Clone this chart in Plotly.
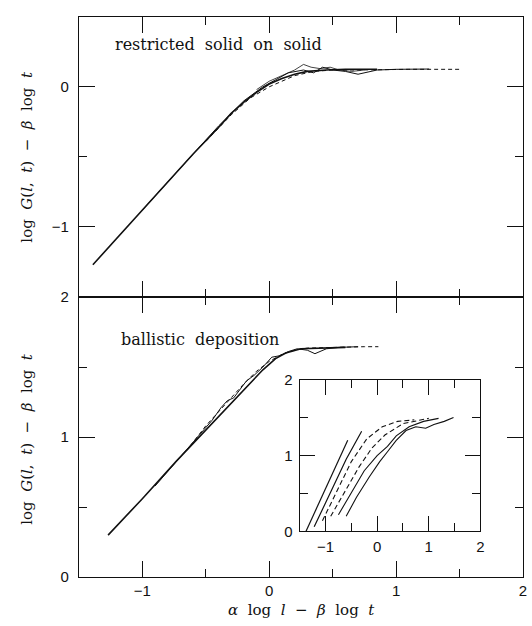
import plotly.graph_objects as go

# ---------------- data ----------------
# top panel: restricted solid on solid
rsos_a_x = [-1.39, -1.2, -1.0, -0.8, -0.6, -0.4, -0.3, -0.2, -0.1, 0.0, 0.1, 0.2, 0.3, 0.45, 0.6, 0.85]
rsos_a_y = [-1.27, -1.08, -0.88, -0.68, -0.48, -0.29, -0.19, -0.11, -0.04, 0.02, 0.06, 0.09, 0.11, 0.12, 0.125, 0.125]
rsos_b_x = [-1.0, -0.7, -0.4, -0.2, -0.05, 0.05, 0.15, 0.27, 0.35, 0.42, 0.5, 0.6, 0.7, 0.85, 1.0, 1.26]
rsos_b_y = [-0.88, -0.58, -0.28, -0.10, 0.0, 0.05, 0.10, 0.12, 0.10, 0.14, 0.12, 0.11, 0.09, 0.12, 0.125, 0.127]
rsos_c_x = [-0.5, -0.3, -0.15, 0.0, 0.1, 0.2, 0.35, 0.5, 0.7, 0.9, 1.1, 1.3, 1.51]
rsos_c_y = [-0.39, -0.20, -0.08, 0.0, 0.04, 0.08, 0.11, 0.12, 0.12, 0.125, 0.125, 0.125, 0.125]
rsos_d_x = [-0.1, 0.0, 0.1, 0.2, 0.27, 0.33, 0.4, 0.48, 0.55, 0.65, 0.75]
rsos_d_y = [-0.02, 0.04, 0.08, 0.12, 0.16, 0.14, 0.13, 0.14, 0.12, 0.11, 0.12]

# bottom panel: ballistic deposition
bd_a_x = [-1.27, -1.0, -0.73, -0.47, -0.21, -0.05, 0.05, 0.13, 0.25, 0.4, 0.6]
bd_a_y = [0.30, 0.56, 0.83, 1.08, 1.33, 1.48, 1.56, 1.60, 1.63, 1.635, 1.64]
bd_b_x = [-0.9, -0.7, -0.55, -0.45, -0.38, -0.33, -0.28, -0.22, -0.18, -0.12, -0.05, 0.02, 0.08, 0.15, 0.22, 0.3, 0.36, 0.45, 0.55, 0.7]
bd_b_y = [0.65, 0.86, 1.02, 1.12, 1.21, 1.26, 1.28, 1.35, 1.40, 1.44, 1.50, 1.57, 1.58, 1.61, 1.63, 1.62, 1.595, 1.63, 1.64, 1.645]
bd_c_x = [-0.62, -0.5, -0.35, -0.2, -0.1, 0.0, 0.1, 0.2, 0.3, 0.45, 0.6, 0.75, 0.86]
bd_c_y = [0.94, 1.08, 1.23, 1.38, 1.47, 1.54, 1.59, 1.62, 1.635, 1.64, 1.645, 1.645, 1.645]

# inset: unscaled curves
in_a_x = [-1.38, -1.0, -0.57]
in_a_y = [0.0, 0.56, 1.20]
in_b_x = [-1.22, -0.9, -0.6, -0.3]
in_b_y = [0.06, 0.52, 0.95, 1.32]
in_c_x = [-1.06, -0.8, -0.5, -0.2, 0.1, 0.4, 0.72]
in_c_y = [0.14, 0.50, 0.92, 1.22, 1.38, 1.45, 1.47]
in_d_x = [-0.9, -0.6, -0.35, -0.1, 0.15, 0.5, 1.0]
in_d_y = [0.20, 0.55, 0.85, 1.10, 1.27, 1.42, 1.49]
in_e_x = [-0.75, -0.5, -0.25, 0.0, 0.2, 0.37, 0.62, 0.9, 1.19]
in_e_y = [0.22, 0.52, 0.80, 1.00, 1.12, 1.26, 1.38, 1.45, 1.49]
in_f_x = [-0.6, -0.4, -0.15, 0.05, 0.2, 0.37, 0.56, 0.75, 0.94, 1.1, 1.3, 1.48]
in_f_y = [0.20, 0.45, 0.72, 0.92, 1.05, 1.20, 1.33, 1.38, 1.36, 1.41, 1.45, 1.50]

x_ticks = [-1, 0, 1, 2]
x_labels = ["\u22121", "0", "1", "2"]
top_y_ticks = [-1, 0]
top_y_labels = ["\u22121", "0"]
bot_y_ticks = [0, 1, 2]

# ---------------- figure ----------------
W, H = 532, 626
fig = go.Figure()
BLACK = "#111111"


def add(x, y, xa, ya, width=1.3, dash="solid"):
    fig.add_trace(go.Scatter(x=x, y=y, xaxis=xa, yaxis=ya, mode="lines",
                             line=dict(color=BLACK, width=width, dash=dash),
                             showlegend=False, hoverinfo="skip"))


add(rsos_a_x, rsos_a_y, "x", "y", 1.6)
add(rsos_b_x, rsos_b_y, "x", "y", 1.0)
add(rsos_c_x, rsos_c_y, "x", "y", 1.0, "4px,3px")
add(rsos_d_x, rsos_d_y, "x", "y", 0.8)

add(bd_a_x, bd_a_y, "x2", "y2", 1.6)
add(bd_b_x, bd_b_y, "x2", "y2", 1.0)
add(bd_c_x, bd_c_y, "x2", "y2", 1.0, "4px,3px")

add(in_a_x, in_a_y, "x3", "y3", 1.2)
add(in_b_x, in_b_y, "x3", "y3", 1.2)
add(in_c_x, in_c_y, "x3", "y3", 1.1, "5px,3px")
add(in_d_x, in_d_y, "x3", "y3", 1.1, "5px,3px")
add(in_e_x, in_e_y, "x3", "y3", 1.1)
add(in_f_x, in_f_y, "x3", "y3", 1.1)


def px(v):
    return v / W


def py(v):
    return 1 - v / H


tickfont = dict(family="Liberation Sans, Arial, sans-serif", size=15, color=BLACK)


def minor(l):
    return dict(ticks="inside", ticklen=l, tickwidth=1.1, tickcolor=BLACK, dtick=0.5)


def axis_common(**kw):
    d = dict(showline=True, linecolor=BLACK, linewidth=1.1, mirror="ticks",
             ticks="inside", ticklen=16, tickwidth=1.1, tickcolor=BLACK,
             showgrid=False, zeroline=False, tickfont=tickfont, minor=minor(8))
    d.update(kw)
    return d


xdom = [px(79.5), px(527)]
fig.update_layout(
    width=W, height=H, margin=dict(l=0, r=0, t=0, b=0),
    paper_bgcolor="white", plot_bgcolor="rgba(0,0,0,0)",
    xaxis=axis_common(domain=xdom, range=[-1.5, 2], anchor="y", tickvals=x_ticks,
                      showticklabels=False),
    yaxis=axis_common(domain=[py(296), py(8)], range=[-1.5, 0.5], anchor="x",
                      tickvals=top_y_ticks, ticktext=top_y_labels, ticklabelstandoff=6),
    xaxis2=axis_common(domain=xdom, range=[-1.5, 2], anchor="y2", tickvals=x_ticks,
                       ticktext=x_labels),
    yaxis2=axis_common(domain=[py(584), py(296)], range=[0, 2], anchor="x2",
                       tickvals=bot_y_ticks, ticklabelstandoff=6),
    xaxis3=axis_common(domain=[px(302), px(484)], range=[-1.5, 2], anchor="y3",
                       tickvals=x_ticks, ticktext=x_labels, ticklen=15, minor=minor(8),
                       ticklabelstandoff=2),
    yaxis3=axis_common(domain=[py(537), py(381)], range=[0, 2], anchor="x3",
                       tickvals=bot_y_ticks, ticklen=15, minor=minor(8),
                       ticklabelstandoff=3),
)

serif = "DejaVu Serif, Liberation Serif, serif"
ytitle = "log  <i>G</i>(<i>l</i>,  <i>t</i>)  \u2212  <i>\u03b2</i>  log  <i>t</i>"
xtitle = "<i>\u03b1</i>  log  <i>l</i>  \u2212  <i>\u03b2</i>  log  <i>t</i>"
afont = dict(family=serif, size=15, color=BLACK)
for yc in (152, 442):
    fig.add_annotation(x=px(27), y=py(yc), xref="paper", yref="paper", text=ytitle,
                       textangle=-90, showarrow=False, xanchor="center", yanchor="middle",
                       font=afont)
fig.add_annotation(x=px(304), y=py(618), xref="paper", yref="paper", text=xtitle,
                   showarrow=False, xanchor="center", yanchor="middle", font=afont)
fig.add_annotation(x=px(114), y=py(36), xref="paper", yref="paper", xanchor="left",
                   yanchor="middle", text="restricted  solid  on  solid", showarrow=False,
                   font=dict(family=serif, size=16, color=BLACK))
fig.add_annotation(x=px(120), y=py(340), xref="paper", yref="paper", xanchor="left",
                   yanchor="middle", text="ballistic  deposition", showarrow=False,
                   font=dict(family=serif, size=16, color=BLACK))

fig.write_html("out.html", config={"displayModeBar": False},
               post_script="document.body.style.margin='0';document.body.style.overflow='hidden';")
